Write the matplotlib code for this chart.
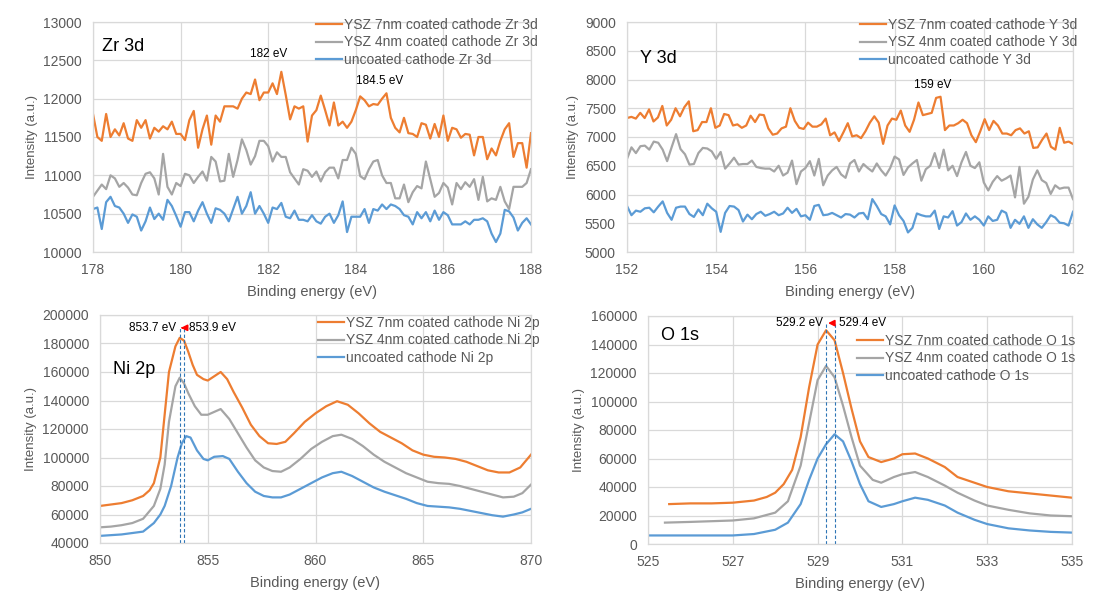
import numpy as np
import matplotlib
matplotlib.use("Agg")
import matplotlib.pyplot as plt

plt.rcParams['font.family'] = ['Liberation Sans', 'DejaVu Sans']

# ---------------- Data ----------------
# Zr 3d (178 - 188 eV, 0.1 eV step)
zr_7nm = [11800, 11500, 11450, 11800, 11500, 11600, 11520, 11680, 11480, 11450,
          11720, 11620, 11720, 11480, 11620, 11570, 11640, 11600, 11700, 11540,
          11540, 11460, 11720, 11840, 11360, 11600, 11780, 11400, 11780, 11700,
          11900, 11900, 11900, 11870, 12000, 12080, 12060, 12250, 11980, 12080,
          12080, 12200, 12060, 12350, 12050, 11730, 11900, 11870, 11900, 11440,
          11780, 11850, 12040, 11850, 11650, 11950, 11650, 11700, 11620, 11700,
          11850, 12030, 11980, 11900, 11930, 11920, 12000, 12070, 11750, 11620,
          11560, 11750, 11550, 11540, 11500, 11680, 11660, 11480, 11670, 11500,
          11780, 11450, 11620, 11600, 11490, 11540, 11530, 11260, 11500, 11500,
          11210, 11350, 11260, 11450, 11600, 11680, 11240, 11420, 11420, 11100,
          11550]
zr_4nm = [10720, 10800, 10880, 10820, 11000, 10960, 10850, 10900, 10840, 10750,
          10740, 10900, 11020, 11040, 10960, 10750, 11280, 10850, 10750, 10900,
          10860, 11020, 11000, 10900, 10980, 11050, 10930, 11240, 11180, 10920,
          10930, 11280, 10980, 11200, 11470, 11330, 11140, 11250, 11450, 11450,
          11380, 11180, 11300, 11240, 11240, 11040, 10960, 10880, 11080, 11060,
          10980, 11050, 10920, 11040, 11100, 11100, 10960, 11200, 11200, 11360,
          11280, 10990, 10950, 11080, 11180, 11200, 11000, 10900, 10900, 10700,
          10700, 10880, 10650, 10780, 10860, 10830, 11180, 10950, 10720, 10770,
          10900, 10840, 10620, 10900, 10820, 10910, 10850, 10950, 10680, 10980,
          10660, 10700, 10680, 10850, 10660, 10560, 10850, 10850, 10850, 10900,
          11080]
zr_unc = [10560, 10580, 10300, 10650, 10720, 10600, 10580, 10500, 10380, 10490,
          10460, 10280, 10400, 10580, 10430, 10500, 10420, 10680, 10600, 10470,
          10330, 10520, 10520, 10400, 10540, 10650, 10500, 10380, 10570, 10550,
          10500, 10400, 10560, 10720, 10500, 10600, 10780, 10500, 10600, 10500,
          10380, 10580, 10560, 10640, 10460, 10440, 10540, 10420, 10420, 10400,
          10480, 10400, 10370, 10460, 10500, 10380, 10480, 10660, 10260, 10460,
          10460, 10460, 10560, 10380, 10560, 10540, 10620, 10560, 10620, 10600,
          10560, 10480, 10460, 10360, 10520, 10440, 10520, 10400, 10540, 10420,
          10520, 10480, 10360, 10360, 10360, 10400, 10360, 10420, 10420, 10440,
          10400, 10240, 10130, 10240, 10550, 10530, 10450, 10280, 10380, 10440,
          10360]

# Y 3d (152 - 162 eV, 0.1 eV step)
y_7nm = [7330, 7350, 7320, 7420, 7330, 7480, 7270, 7340, 7540, 7200,
         7300, 7500, 7360, 7520, 7620, 7100, 7120, 7260, 7260, 7500,
         7160, 7200, 7400, 7380, 7200, 7220, 7160, 7200, 7370, 7260,
         7390, 7380, 7150, 7040, 7060, 7150, 7180, 7500, 7280, 7160,
         7140, 7250, 7180, 7180, 7220, 7320, 7030, 7080, 6930, 7080,
         7240, 7010, 7030, 6980, 7100, 7250, 7360, 7250, 6880, 7200,
         7320, 7300, 7460, 7200, 7090, 7300, 7600, 7380, 7400, 7420,
         7680, 7700, 7120, 7200, 7200, 7240, 7300, 7240, 7030, 6910,
         7100, 7310, 7120, 7280, 7200, 7060, 7060, 7030, 7120, 7150,
         7060, 7100, 6810, 6820, 6950, 7060, 6830, 6780, 7160, 6900,
         6920, 6880]
y_4nm = [6620, 6820, 6720, 6840, 6850, 6780, 6920, 6900, 6780, 6580,
         6820, 7050, 6790, 6700, 6520, 6530, 6720, 6810, 6800, 6750,
         6620, 6740, 6450, 6540, 6640, 6520, 6530, 6530, 6590, 6480,
         6460, 6450, 6450, 6400, 6500, 6330, 6380, 6590, 6180, 6400,
         6460, 6580, 6330, 6620, 6160, 6330, 6420, 6480, 6350, 6290,
         6540, 6600, 6400, 6530, 6460, 6400, 6540, 6420, 6330, 6460,
         6660, 6610, 6340, 6470, 6540, 6600, 6240, 6440, 6500, 6720,
         6460, 6780, 6420, 6500, 6320, 6560, 6740, 6500, 6460, 6560,
         6210, 6070, 6220, 6320, 6240, 6280, 6330, 5950, 6480, 5840,
         5960, 6260, 6420, 6250, 6200, 6010, 6160, 6100, 6120, 6120,
         5920]
y_unc = [5800, 5640, 5720, 5700, 5760, 5770, 5690, 5790, 5880, 5680,
         5560, 5770, 5790, 5790, 5660, 5610, 5740, 5640, 5840, 5760,
         5700, 5350, 5680, 5800, 5790, 5730, 5530, 5650, 5570, 5660,
         5700, 5630, 5660, 5700, 5640, 5670, 5770, 5680, 5750, 5620,
         5640, 5560, 5800, 5820, 5640, 5650, 5680, 5640, 5600, 5660,
         5650, 5600, 5670, 5680, 5570, 5920, 5800, 5660, 5620, 5480,
         5810, 5640, 5540, 5340, 5420, 5670, 5640, 5620, 5620, 5720,
         5400, 5620, 5600, 5710, 5460, 5520, 5670, 5560, 5620, 5560,
         5460, 5620, 5540, 5560, 5720, 5680, 5420, 5560, 5490, 5620,
         5420, 5570, 5480, 5420, 5520, 5640, 5600, 5510, 5500, 5460,
         5700]

# Ni 2p
ni_7nm_x = [850.0, 850.5, 851.0, 851.5, 852.0, 852.3, 852.5, 852.8, 853.0, 853.2,
            853.5, 853.7, 853.9, 854.1, 854.3, 854.5, 854.8, 855.0, 855.3, 855.6,
            855.9, 856.2, 856.6, 857.0, 857.4, 857.8, 858.2, 858.6, 859.0, 859.5,
            860.0, 860.5, 861.0, 861.5, 862.0, 862.5, 863.0, 863.5, 864.0, 864.5,
            865.0, 865.5, 866.0, 866.5, 867.0, 867.5, 868.0, 868.5, 869.0, 869.5, 870.0]
ni_7nm = [66000, 67000, 68000, 70000, 73000, 77000, 82000, 100000, 130000, 160000,
          178000, 184000, 182000, 174000, 165000, 158000, 155000, 154000, 157000, 160000,
          155000, 146000, 135000, 123000, 115000, 110000, 109500, 111000, 117000, 125000,
          131000, 136000, 139500, 137000, 131000, 124000, 118000, 114000, 110000, 105000,
          102000, 100500, 100000, 99000, 97000, 94000, 91000, 89500, 89500, 93000, 102000]
ni_4nm_x = [850.0, 850.5, 851.0, 851.5, 852.0, 852.5, 852.8, 853.0, 853.2, 853.5,
            853.7, 853.9, 854.1, 854.4, 854.7, 855.0, 855.3, 855.6, 856.0, 856.4,
            856.8, 857.2, 857.6, 858.0, 858.4, 858.8, 859.3, 859.8, 860.3, 860.8,
            861.2, 861.7, 862.2, 862.7, 863.2, 863.7, 864.2, 864.7, 865.2, 865.7,
            866.2, 866.7, 867.2, 867.7, 868.2, 868.7, 869.2, 869.6, 870.0]
ni_4nm = [51000, 51500, 52500, 54000, 57000, 66000, 78000, 95000, 125000, 150000,
          156000, 152000, 145000, 136000, 130000, 130000, 132000, 134000, 127000, 117000,
          107000, 98000, 93000, 90500, 90000, 93000, 99000, 106000, 111000, 115000,
          116000, 113000, 108000, 102000, 97000, 93000, 89000, 86000, 83000, 82000,
          81500, 80000, 78000, 76000, 74000, 72000, 72500, 75000, 81000]
ni_unc_x = [850.0, 850.5, 851.0, 851.5, 852.0, 852.5, 852.8, 853.0, 853.3, 853.6,
            853.8, 854.0, 854.2, 854.5, 854.8, 855.0, 855.3, 855.7, 856.0, 856.4,
            856.8, 857.2, 857.6, 858.0, 858.4, 858.8, 859.3, 859.8, 860.3, 860.8,
            861.2, 861.7, 862.2, 862.7, 863.2, 863.7, 864.2, 864.7, 865.2, 865.7,
            866.2, 866.7, 867.2, 867.7, 868.2, 868.7, 869.2, 869.6, 870.0]
ni_unc = [45000, 45500, 46000, 47000, 48000, 54000, 60000, 66000, 80000, 100000,
          110000, 115000, 114000, 105000, 99000, 98000, 100500, 101000, 99000, 90000,
          82000, 76000, 73000, 72000, 72000, 74000, 78000, 82000, 86000, 89000,
          90000, 87000, 83000, 79000, 76000, 73500, 71000, 68000, 66000, 65500,
          65000, 64000, 62500, 61000, 59500, 58500, 60000, 61500, 64000]

# O 1s
o_7nm_x = [525.5, 526.0, 526.5, 527.0, 527.5, 527.8, 528.0, 528.2, 528.4, 528.6,
           528.8, 529.0, 529.2, 529.4, 529.6, 529.8, 530.0, 530.2, 530.5, 530.8,
           531.0, 531.3, 531.6, 532.0, 532.3, 532.7, 533.0, 533.5, 534.0, 534.5, 535.0]
o_7nm = [28000, 28500, 28500, 29000, 30500, 33000, 36000, 42000, 52000, 75000,
         110000, 140000, 150000, 143000, 120000, 95000, 72000, 61000, 57500, 60000,
         63000, 63500, 60000, 54000, 47000, 43000, 40000, 37000, 35500, 34000, 32500]
o_4nm_x = [525.4, 526.0, 526.5, 527.0, 527.5, 528.0, 528.3, 528.6, 528.8, 529.0,
           529.2, 529.4, 529.6, 529.8, 530.0, 530.3, 530.5, 530.8, 531.0, 531.3,
           531.6, 532.0, 532.3, 532.7, 533.0, 533.5, 534.0, 534.5, 535.0]
o_4nm = [15000, 15500, 16000, 16500, 18000, 22000, 30000, 55000, 85000, 115000,
         125000, 117000, 97000, 75000, 55000, 45000, 43000, 47000, 49000, 50500,
         47000, 41000, 36000, 30500, 27000, 24000, 21500, 20000, 19500]
o_unc_x = [525.0, 526.0, 527.0, 527.5, 528.0, 528.3, 528.6, 528.8, 529.0, 529.2,
           529.4, 529.6, 529.8, 530.0, 530.2, 530.5, 530.8, 531.0, 531.3, 531.6,
           532.0, 532.3, 532.7, 533.0, 533.5, 534.0, 534.5, 535.0]
o_unc = [6000, 6000, 6000, 7000, 10000, 15000, 28000, 45000, 60000, 70000,
         77000, 72000, 58000, 42000, 30000, 26000, 28000, 30000, 32500, 31000,
         27000, 22000, 17000, 14000, 11000, 9500, 8500, 8000]

# ---------------- Style ----------------
C_OR = '#ED7D31'
C_GR = '#A5A5A5'
C_BL = '#5B9BD5'
TXT = '#595959'
GRID = '#D9D9D9'

W, H = 1098, 614
fig = plt.figure(figsize=(W / 100, H / 100), dpi=100)


def px_axes(x0, x1, ytop, ybot):
    return fig.add_axes([x0 / W, 1 - ybot / H, (x1 - x0) / W, (ybot - ytop) / H])


def style(ax, xlim, ylim, xticks, yticks):
    ax.set_xlim(*xlim)
    ax.set_ylim(*ylim)
    ax.set_xticks(xticks)
    ax.set_yticks(yticks)
    ax.grid(True, color=GRID, lw=0.9)
    ax.set_axisbelow(True)
    for s in ax.spines.values():
        s.set_color(GRID)
        s.set_linewidth(0.9)
    ax.tick_params(length=0, labelsize=10, colors=TXT)
    ax.tick_params(axis='x', pad=8)
    ax.tick_params(axis='y', pad=8)
    ax.set_xlabel('Binding energy (eV)', fontsize=10.5, color=TXT, labelpad=6)
    ax.set_ylabel('Intensity (a.u.)', fontsize=9.5, color=TXT, labelpad=4)


def legend(ax, labels, xpx, ypx):
    ax.legend(labels, loc='upper left', bbox_to_anchor=(xpx / W, 1 - ypx / H),
              bbox_transform=fig.transFigure, frameon=False, fontsize=10,
              handlelength=1.9, handletextpad=0.15, borderpad=0, borderaxespad=0,
              labelspacing=0.25, labelcolor=TXT)


LW = 1.6

# Top-left: Zr 3d
ax1 = px_axes(93, 531, 22, 252)
xz = np.linspace(178, 188, len(zr_7nm))
ax1.plot(xz, zr_7nm, color=C_OR, lw=LW)
ax1.plot(xz, zr_4nm, color=C_GR, lw=LW)
ax1.plot(xz, zr_unc, color=C_BL, lw=LW)
style(ax1, (178, 188), (10000, 13000), range(178, 189, 2), range(10000, 13001, 500))
legend(ax1, ['YSZ 7nm coated cathode Zr 3d', 'YSZ 4nm coated cathode Zr 3d',
             'uncoated cathode Zr 3d'], 316, 18)
ax1.text(0.02, 0.93, 'Zr 3d', transform=ax1.transAxes, fontsize=13, va='top')
ax1.text(182.0, 12510, '182 eV', fontsize=8.5, ha='center', va='bottom')
ax1.text(184.55, 12150, '184.5 eV', fontsize=8.5, ha='center', va='bottom')

# Top-right: Y 3d
ax2 = px_axes(627, 1073, 22, 252)
xy = np.linspace(152, 162, len(y_7nm))
xy2 = np.linspace(152, 162, len(y_4nm))
ax2.plot(xy, y_7nm, color=C_OR, lw=LW)
ax2.plot(xy2, y_4nm, color=C_GR, lw=LW)
ax2.plot(xy2, y_unc, color=C_BL, lw=LW)
style(ax2, (152, 162), (5000, 9000), range(152, 163, 2), range(5000, 9001, 500))
legend(ax2, ['YSZ 7nm coated cathode Y 3d', 'YSZ 4nm coated cathode Y 3d',
             'uncoated cathode Y 3d'], 860, 18)
ax2.text(0.03, 0.88, 'Y 3d', transform=ax2.transAxes, fontsize=13, va='top')
ax2.text(158.85, 7800, '159 eV', fontsize=8.5, ha='center', va='bottom')

# Bottom-left: Ni 2p
ax3 = px_axes(100, 531, 315, 543)
ax3.plot(ni_7nm_x, ni_7nm, color=C_OR, lw=LW)
ax3.plot(ni_4nm_x, ni_4nm, color=C_GR, lw=LW)
ax3.plot(ni_unc_x, ni_unc, color=C_BL, lw=LW)
style(ax3, (850, 870), (40000, 200000), range(850, 871, 5), range(40000, 200001, 20000))
legend(ax3, ['YSZ 7nm coated cathode Ni 2p', 'YSZ 4nm coated cathode Ni 2p',
             'uncoated cathode Ni 2p'], 318, 316)
ax3.text(0.03, 0.80, 'Ni 2p', transform=ax3.transAxes, fontsize=13, va='top')
for xv in (853.7, 853.9):
    ax3.plot([xv, xv], [40000, 191000], color='#2E75B6', lw=0.8, ls=(0, (3, 2)))
ax3.annotate('', xy=(853.62, 191000), xytext=(853.98, 191000),
             arrowprops=dict(arrowstyle='-|>', color='red', lw=1.2, mutation_scale=9))
ax3.text(853.55, 191000, '853.7 eV', fontsize=8.5, ha='right', va='center')
ax3.text(854.15, 191000, '853.9 eV', fontsize=8.5, ha='left', va='center')

# Bottom-right: O 1s
ax4 = px_axes(648, 1072, 316, 544)
ax4.plot(o_7nm_x, o_7nm, color=C_OR, lw=LW)
ax4.plot(o_4nm_x, o_4nm, color=C_GR, lw=LW)
ax4.plot(o_unc_x, o_unc, color=C_BL, lw=LW)
style(ax4, (525, 535), (0, 160000), range(525, 536, 2), range(0, 160001, 20000))
legend(ax4, ['YSZ 7nm coated cathode O 1s', 'YSZ 4nm coated cathode O 1s',
             'uncoated cathode O 1s'], 857, 334)
ax4.text(0.03, 0.95, 'O 1s', transform=ax4.transAxes, fontsize=13, va='top')
for xv in (529.2, 529.4):
    ax4.plot([xv, xv], [0, 155000], color='#2E75B6', lw=0.8, ls=(0, (3, 2)))
ax4.annotate('', xy=(529.18, 155000), xytext=(529.42, 155000),
             arrowprops=dict(arrowstyle='-|>', color='red', lw=1.2, mutation_scale=9))
ax4.text(529.12, 155000, '529.2 eV', fontsize=8.5, ha='right', va='center')
ax4.text(529.5, 155000, '529.4 eV', fontsize=8.5, ha='left', va='center')

fig.savefig('out.png', dpi=100)
